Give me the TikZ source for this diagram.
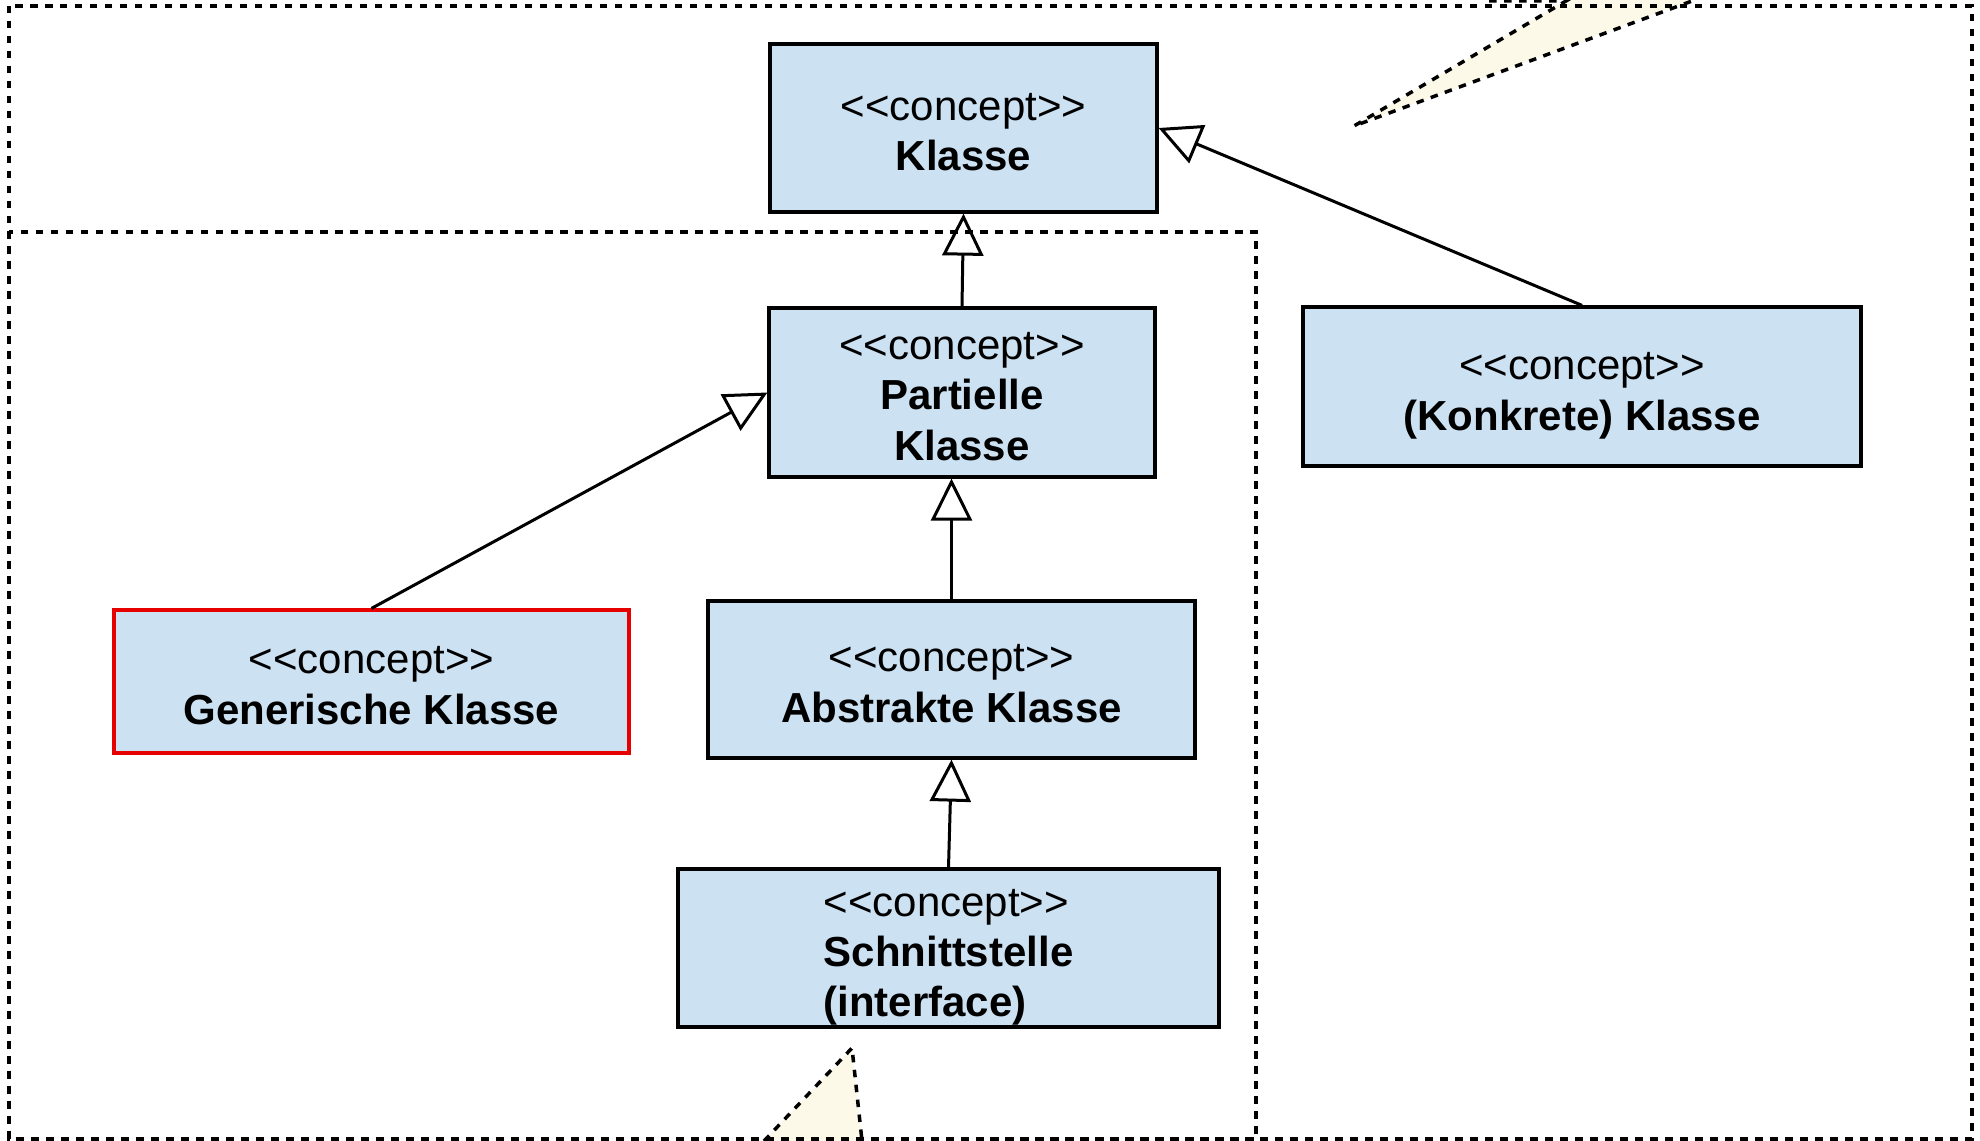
\documentclass[tikz,border=0pt]{standalone}
\usepackage{fontspec}
\setmainfont{Liberation Sans}[Ligatures=TeXOff]
\usepackage{tikz}
\usetikzlibrary{arrows.meta}
\usetikzlibrary{calc}

\definecolor{conceptblue}{RGB}{204,225,242}
\definecolor{notecream}{RGB}{253,249,233}
\definecolor{genred}{RGB}{230,0,0}
\newcommand{\cpt}[1][20pt]{\rule{0pt}{#1}<<concept>>}

\begin{document}
\begin{tikzpicture}[x=0.02cm, y=-0.02cm,
             concept/.style={draw, line width=0.065cm, fill=conceptblue,
                align=center, inner sep=0pt, font=\fontsize{23.9}{28.7}\selectfont},
             generic/.style={concept, draw=genred},
             frame/.style={draw, line width=0.07cm, dash pattern=on 0.15cm off 0.15cm},
             note/.style={fill=notecream},
             inherit/.style={-{Triangle[fill=white, length=0.84cm, width=0.82cm]},
                line width=0.06cm},
          ]
          \useasboundingbox (0,0) rectangle (1980,1141);
          \clip (0,0) rectangle (1980,1141);

          % note callouts
          \coordinate (tipa) at (1354,126);
          \coordinate (tipb) at (852,1048);
          \fill[note] (tipa) -- (1566,0) -- (1692,0) -- cycle;
          \fill[note] (tipb) -- (764,1141) -- (862,1141) -- cycle;

          \node at (963.5,128) (klasse) [concept, minimum width=7.74cm, minimum height=3.36cm]
               {\cpt\\ \textbf{Klasse}};
          \node at (962,392.5) (part) [concept, minimum width=7.72cm, minimum height=3.38cm]
               {\cpt\\ \textbf{Partielle}\\ \textbf{Klasse}};
          \node at (1582,386.5) (konk) [concept, minimum width=11.16cm, minimum height=3.18cm]
               {\cpt[26pt]\\ \textbf{(Konkrete) Klasse}};
          \node at (371.5,681.5) (gen) [generic, minimum width=10.3cm, minimum height=2.86cm]
               {\cpt\\ \textbf{Generische Klasse}};
          \node at (951.5,679.5) (abs) [concept, minimum width=9.74cm, minimum height=3.14cm]
               {\cpt\\ \textbf{Abstrakte Klasse}};
          \node at (948.5,948) (schn) [concept, align=left, minimum width=10.82cm, minimum height=3.16cm]
               {\cpt[26pt]\\ \textbf{Schnittstelle}\\ \textbf{(interface)}};

          \draw[inherit] (part.north) -- (klasse.south);
          \draw[inherit] (konk.north) -- (klasse.east);
          \draw[inherit] (gen.north) -- (part.west);
          \draw[inherit] (abs.north) -- (abs.north |- part.south);
          \draw[inherit] (schn.north) -- (abs.south);

          % frames
          \draw[frame] (9,6) rectangle (1972,1139);
          \draw[frame] (9,232) rectangle (1256,1139);

          \draw[frame] (1489,1) -- (1566,1) -- (tipa) -- (1692,1);
          \draw[frame] (764,1141) -- (tipb) -- (862,1141);

       \end{tikzpicture}
\end{document}
